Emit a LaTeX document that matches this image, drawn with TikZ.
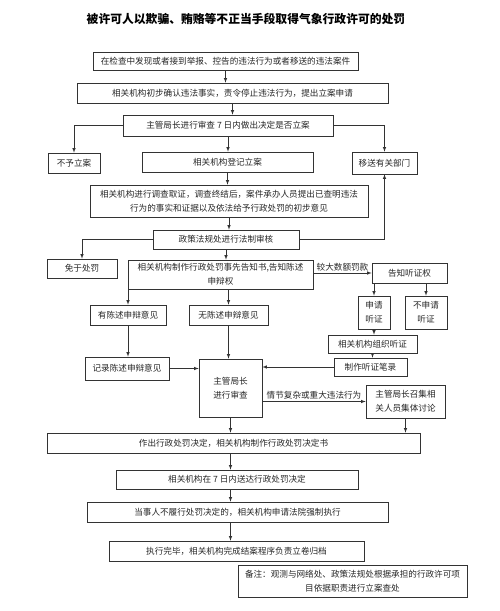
\documentclass[tikz,border=0pt]{standalone}
\usepackage{fontspec}
\newfontfamily\cjk{Noto Sans CJK SC}
\usepackage{tikz}
\usetikzlibrary{arrows}
\usetikzlibrary{positioning}

\tikzset{
  box/.style={draw=black!80, line width=0.6pt, rectangle, inner sep=0pt, align=center, text=black!85},
  arr/.style={-latex, draw=black!80, line width=0.6pt},
  cond/.style={inner sep=1.5pt, text=black!85},
}

\begin{document}
\begin{tikzpicture}[x=1pt,y=-1pt,font=\cjk\fontsize{8.6}{14}\selectfont]
  \useasboundingbox (0,0) rectangle (500,611);

  %% title
  \node (title) at (246,19) {\fontsize{11.8}{14}\selectfont\bfseries 被许可人以欺骗、贿赂等不正当手段取得气象行政许可的处罚};

  %% filing
  \node[box, minimum width=265, minimum height=18] (check) at (225.5,61) {在检查中发现或者接到举报、控告的违法行为或者移送的违法案件};
  \node[box, minimum width=311, minimum height=20] (confirm) at (232.5,93) {相关机构初步确认违法事实，责令停止违法行为，提出立案申请};
  \node[box, minimum width=210, minimum height=21] (review) at (228,125.5) {主管局长进行审查 7 日内做出决定是否立案};
  \node[box, minimum width=52, minimum height=20] (noCase) at (74,163) {不予立案};
  \node[box, minimum width=171, minimum height=20] (register) at (227.5,162) {相关机构登记立案};
  \node[box, minimum width=65, minimum height=22] (transfer) at (384.5,163) {移送有关部门};

  % investigation
  \node[box, minimum width=278, minimum height=32] (investigate) at (229,201) {相关机构进行调查取证，调查终结后，案件承办人员提出已查明违法\\行为的事实和证据以及依法给予行政处罚的初步意见};
  \node[box, minimum width=146, minimum height=19] (legal) at (226,239.5) {政策法规处进行法制审核};
  \node[box, minimum width=70, minimum height=19] (exempt) at (82,268.5) {免于处罚};
  \node[box, minimum width=185, minimum height=29] (notice) at (220.5,274.5) {相关机构制作行政处罚事先告知书,告知陈述\\申辩权};

  %% hearing branch
  \node[box, minimum width=75, minimum height=20] (hearRight) at (409.5,273) {告知听证权};
  \node[box, minimum width=32, minimum height=33] (apply) at (374,312.5) {申请\\听证};
  \node[box, minimum width=42, minimum height=33] (noApply) at (426,312.5) {不申请\\听证};
  \node[box, minimum width=89, minimum height=18] (organize) at (372.5,344) {相关机构组织听证};
  \node[box, minimum width=73, minimum height=18] (hearLog) at (370.5,367) {制作听证笔录};

  %% statement branch
  \node[box, minimum width=76, minimum height=20] (withPlea) at (128,315) {有陈述申辩意见};
  \node[box, minimum width=79, minimum height=20] (noPlea) at (228.5,315) {无陈述申辩意见};
  \node[box, minimum width=84, minimum height=23] (logPlea) at (127,368.5) {记录陈述申辩意见};
  \node[box, minimum width=63, minimum height=58] (director) at (230.5,388) {主管局长\\进行审查};
  \node[box, minimum width=79, minimum height=33] (discuss) at (405.5,401.5) {主管局长召集相\\关人员集体讨论};

  %% decision
  \node[box, minimum width=373, minimum height=20] (decide) at (233.5,443) {作出行政处罚决定，相关机构制作行政处罚决定书};
  \node[box, minimum width=242, minimum height=19] (deliver) at (237,479.5) {相关机构在 7 日内送达行政处罚决定};
  \node[box, minimum width=301, minimum height=20] (enforce) at (237.5,512) {当事人不履行处罚决定的，相关机构申请法院强制执行};
  \node[box, minimum width=255, minimum height=20] (archive) at (236.5,551) {执行完毕，相关机构完成结案程序负责立卷归档};
  \node[box, minimum width=229, minimum height=32] (note) at (352.5,581) {备注：观测与网络处、政策法规处根据承担的行政许可项\\目依据职责进行立案查处};

  %% connectors
  \draw[arr] (check.south) -- (check.south |- confirm.north);
  \draw[arr] (confirm.south) -- (confirm.south |- review.north);
  \draw[arr] (review.west) -| (noCase.north);
  \draw[arr] (review.east) -| (transfer.north);
  \draw[arr] (review.south) -- (review.south |- register.north);
  \draw[arr] (register.south) -- (register.south |- investigate.north);
  \draw[arr] (investigate.south) -- (investigate.south |- legal.north);
  \draw[arr] (legal.east) -| (transfer.south);
  \draw[arr] (legal.west) -| (exempt.north);
  \draw[arr] (legal.south) -- (legal.south |- notice.north);

  \draw[arr] (notice.east |- hearRight.west) -- (hearRight.west)
    node[cond, midway, above] (bigFine) {较大数额罚款};
  \draw[arr] (apply.north |- hearRight.south) -- (apply.north);
  \draw[arr] (noApply.north |- hearRight.south) -- (noApply.north);
  \draw[arr] (apply.south) -- (apply.south |- organize.north);
  \draw[arr] (organize.south) -- (organize.south |- hearLog.north);
  \draw[arr] (hearLog.west) -- (hearLog.west -| director.east);

  \draw[arr] (withPlea.north |- notice.south) -- (withPlea.north);
  \draw[arr] (noPlea.north |- notice.south) -- (noPlea.north);
  \draw[arr] (withPlea.south) -- (withPlea.south |- logPlea.north);
  \draw[arr] (noPlea.south) -- (noPlea.south |- director.north);
  \draw[arr] (logPlea.east) -- (logPlea.east -| director.west);
  \draw[arr] (director.east |- discuss.west) -- (discuss.west)
    node[cond, midway, above] (serious) {情节复杂或重大违法行为};

  \draw[arr] (director.south) -- (director.south |- decide.north);
  \draw[arr] (discuss.south) -- (discuss.south |- decide.north);
  \draw[arr] (director.south |- decide.south) -- (director.south |- deliver.north);
  \draw[arr] (director.south |- deliver.south) -- (director.south |- enforce.north);
  \draw[arr] (director.south |- enforce.south) -- (director.south |- archive.north);
\end{tikzpicture}
\end{document}
